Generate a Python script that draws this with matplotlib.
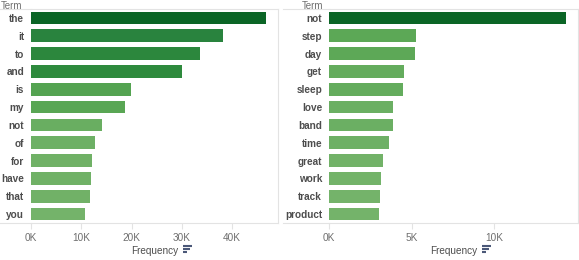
import matplotlib
matplotlib.use("Agg")
import matplotlib.pyplot as plt
import numpy as np
from matplotlib.colors import LinearSegmentedColormap, Normalize
from matplotlib.lines import Line2D

# left panel: all terms
left_terms = ["the", "it", "to", "and", "is", "my", "not", "of", "for",
              "have", "that", "you"]
left_freq = [46800, 38200, 33500, 30100, 19900, 18600, 14200, 12800, 12100,
             12000, 11800, 10700]
left_ticks = [0, 10000, 20000, 30000, 40000]

# right panel: terms after stop-word removal
right_terms = ["not", "step", "day", "get", "sleep", "love", "band", "time",
               "great", "work", "track", "product"]
right_freq = [14370, 5280, 5220, 4520, 4500, 3870, 3870, 3640, 3260, 3120,
              3060, 3000]
right_ticks = [0, 5000, 10000]

W, H = 579, 260
DPI = 100

plt.rcParams["font.family"] = ["Liberation Sans", "DejaVu Sans"]

cmap = LinearSegmentedColormap.from_list(
    "greens", [(0.0, "#74b36a"), (0.2, "#5ca856"), (0.5, "#2f8b3d"),
               (0.8, "#28823e"), (1.0, "#0b6526")])

frame_col = "#e3e3e3"
label_col = "#4d4d4d"
tick_col = "#6e6e6e"


def px(x0, y0, x1, y1):
    # pixel box (top-left origin) -> figure fraction rect
    return [x0 / W, 1 - y1 / H, (x1 - x0) / W, (y1 - y0) / H]


def draw_panel(fig, rect, terms, freq, ticks, xmax, term_x, frame_x0, icon_x):
    ax = fig.add_axes(px(*rect))
    norm = Normalize(min(freq), max(freq))
    y = np.arange(len(terms))
    ax.barh(y, freq, height=0.71, color=cmap(norm(np.array(freq))))
    ax.set_ylim(len(terms) - 0.5, -0.5)
    ax.set_xlim(0, xmax)
    ax.set_yticks(y)
    ax.set_yticklabels(terms, fontsize=7.2, fontweight="bold", color=label_col)
    ax.set_xticks(ticks)
    ax.set_xticklabels([f"{t // 1000}K" for t in ticks], fontsize=7.2,
                       color=tick_col)
    ax.tick_params(axis="y", length=0, pad=5)
    ax.tick_params(axis="x", length=4, color=frame_col, pad=3)
    ax.spines["left"].set_visible(False)
    for s in ["top", "right", "bottom"]:
        ax.spines[s].set_color(frame_col)
        ax.spines[s].set_linewidth(0.8)
    ax.set_xlabel("Frequency", fontsize=7.2, color=label_col, labelpad=2)

    # frame lines extending over the label area
    x0f, x1f = frame_x0 / W, rect[0] / W
    for yy in (rect[1], rect[3]):
        fig.add_artist(Line2D([x0f, x1f], [1 - yy / H, 1 - yy / H],
                              color=frame_col, lw=0.8))
    fig.text(term_x / W, 1 - 1 / H, "Term", fontsize=7, color=tick_col,
             ha="left", va="top")

    # sort icon next to the axis title
    for i, ln in enumerate([9, 7, 4]):
        yy = 1 - (245.5 + i * 3) / H
        fig.add_artist(Line2D([icon_x / W, (icon_x + ln) / W], [yy, yy],
                              color="#4b5878", lw=1.5,
                              solid_capstyle="butt"))
    return ax


fig = plt.figure(figsize=(W / DPI, H / DPI), dpi=DPI)

draw_panel(fig, (31, 9, 278, 223), left_terms, left_freq, left_ticks,
           49100, 1, 0, 183)
draw_panel(fig, (329, 9, 578, 223), right_terms, right_freq, right_ticks,
           15080, 302, 283, 482)

fig.savefig("out.png", dpi=DPI)
